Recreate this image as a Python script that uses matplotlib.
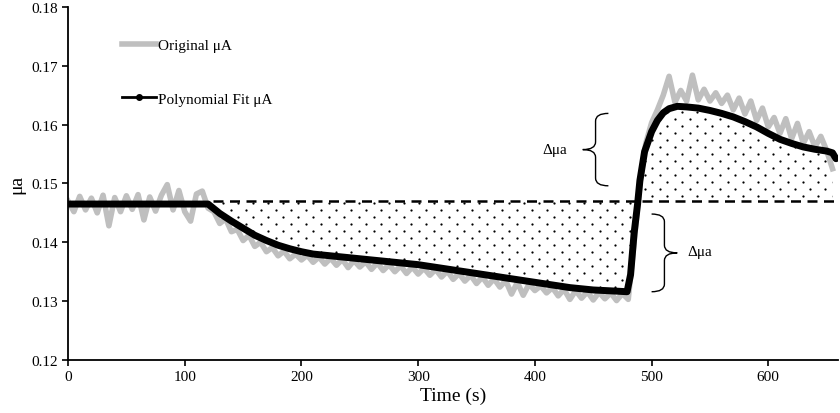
import numpy as np
import matplotlib
matplotlib.use("Agg")
import matplotlib.pyplot as plt
from matplotlib.lines import Line2D
from matplotlib.path import Path
from matplotlib.patches import PathPatch
from matplotlib.ticker import FormatStrFormatter

plt.rcParams['font.family'] = ['Liberation Serif', 'DejaVu Serif']

t_orig = list(range(0, 660, 5))
ua_orig = [
    0.1470, 0.1452, 0.1478, 0.1455, 0.1475, 0.1450, 0.1480, 0.1428, 0.1476, 0.1452,
    0.1479, 0.1456, 0.1481, 0.1438, 0.1477, 0.1453, 0.1480, 0.1498, 0.1455, 0.1488,
    0.1452, 0.1436, 0.1482, 0.1487, 0.1458,
    0.1452, 0.1432, 0.1440, 0.1418, 0.1422, 0.1403, 0.1412, 0.1393, 0.1400, 0.1384,
    0.1391, 0.1377, 0.1385, 0.1372, 0.1380, 0.1370,
    0.1378, 0.1366, 0.1375, 0.1363, 0.1373, 0.1361, 0.1371, 0.1357, 0.1369, 0.1358,
    0.1367, 0.1354, 0.1365, 0.1352, 0.1362, 0.1350, 0.1360, 0.1347, 0.1358, 0.1346,
    0.1356, 0.1344, 0.1354, 0.1341, 0.1351, 0.1337, 0.1347, 0.1334, 0.1344, 0.1330,
    0.1341, 0.1327, 0.1338, 0.1324, 0.1335, 0.1312, 0.1332, 0.1310, 0.1329, 0.1318,
    0.1326, 0.1314, 0.1323, 0.1309, 0.1320, 0.1303, 0.1318, 0.1305, 0.1316, 0.1302,
    0.1315, 0.1304, 0.1314, 0.1301, 0.1313, 0.1303,
    0.1400, 0.1500, 0.1568, 0.1603,
    0.1625, 0.1650, 0.1682, 0.1638, 0.1658, 0.1640, 0.1684, 0.1642, 0.1660, 0.1640,
    0.1654, 0.1636,
    0.1650, 0.1625, 0.1645, 0.1618, 0.1640, 0.1607, 0.1628, 0.1596, 0.1612, 0.1585,
    0.1610, 0.1576,
    0.1602, 0.1568, 0.1588, 0.1562, 0.1580, 0.1556, 0.1525,
]

# polynomial fit
t_fit = [0, 20, 40, 60, 80, 100, 120, 130, 140, 150, 160, 170, 180, 190, 200,
         210, 220, 230, 240, 250, 260, 270, 280, 290, 300, 310, 320, 330, 340,
         350, 360, 370, 380, 390, 400, 410, 420, 430, 440, 450, 460, 470, 479,
         482, 485, 488, 490, 494, 500, 505, 510, 515, 522, 530, 540, 550, 560,
         570, 580, 590, 600, 610, 620, 630, 640, 650, 655, 658]
ua_fit = [0.1465, 0.1465, 0.1465, 0.1465, 0.1465, 0.1465, 0.1465, 0.1449, 0.1436,
          0.1424, 0.1412, 0.1403, 0.1395, 0.1389, 0.1384, 0.1380, 0.1378, 0.1376,
          0.1374, 0.1372, 0.1370, 0.1368, 0.1366, 0.1364, 0.1362, 0.1359, 0.1356,
          0.1353, 0.1350, 0.1347, 0.1344, 0.1341, 0.1338, 0.1335, 0.1332, 0.1329,
          0.1326, 0.1323, 0.1321, 0.1319, 0.1318, 0.1317, 0.1316, 0.1345, 0.1415,
          0.1465, 0.1505, 0.1554, 0.1588, 0.1607, 0.1620, 0.1627, 0.1631, 0.1630,
          0.1628, 0.1624, 0.1619, 0.1613, 0.1605, 0.1596, 0.1585, 0.1575, 0.1568,
          0.1562, 0.1558, 0.1555, 0.1552, 0.1542]

baseline = 0.147
baseline_start, baseline_end = 124, 656

fig, ax = plt.subplots(figsize=(8.4, 4.14), dpi=100)
fig.subplots_adjust(left=0.081, right=0.998, bottom=0.128, top=0.981)

ax.plot(t_orig, ua_orig, color='#bfbfbf', lw=4, solid_joinstyle='round', zorder=2)

# dotted area between the fit and the baseline
tf = np.array(t_fit)
yf = np.array(ua_fit)
mask = (tf >= 120) & (tf <= 655)
area = ax.fill_between(tf[mask], yf[mask], baseline, facecolor='none',
                       edgecolor='none', linewidth=0, zorder=1)
dx, dy = 12.9, 0.00119
rows = np.arange(0.1300, 0.1650, dy)
gx, gy = [], []
for i, yy in enumerate(rows):
    xs = np.arange(120 + (dx / 2 if i % 2 else 0), 660, dx)
    gx.extend(xs)
    gy.extend([yy] * len(xs))
dots = ax.scatter(gx, gy, s=2.6, color='black', linewidths=0, zorder=1)
dots.set_clip_path(area.get_paths()[0], ax.transData)

ax.plot(t_fit, ua_fit, color='black', lw=5, solid_capstyle='round', zorder=3)
ax.plot([baseline_start, baseline_end], [baseline, baseline], color='black',
        lw=1.8, dashes=(4, 2.6), zorder=4)


def brace(x_spine, x_end, x_tip, y0, y1, r):
    ym = (y0 + y1) / 2
    verts = [(x_end, y1), (x_spine, y1), (x_spine, y1 - r),
             (x_spine, ym + r), (x_spine, ym), (x_tip, ym),
             (x_spine, ym), (x_spine, ym - r),
             (x_spine, y0 + r), (x_spine, y0), (x_end, y0)]
    codes = [Path.MOVETO, Path.CURVE3, Path.CURVE3, Path.LINETO, Path.CURVE3,
             Path.CURVE3, Path.CURVE3, Path.CURVE3, Path.LINETO, Path.CURVE3,
             Path.CURVE3]
    ax.add_patch(PathPatch(Path(verts, codes), facecolor='none',
                           edgecolor='black', lw=1.0, zorder=5))


brace(452, 463, 441, 0.1496, 0.1619, 0.0013)
brace(511, 500, 522, 0.1316, 0.1448, 0.0013)
ax.text(417, 0.1557, 'Δμa', fontsize=11, ha='center', va='center')
ax.text(531, 0.1384, 'Δμa', fontsize=11, ha='left', va='center')

ax.set_xlim(0, 660)
ax.set_ylim(0.12, 0.18)
ax.set_xticks([0, 100, 200, 300, 400, 500, 600])
ax.set_yticks([0.12, 0.13, 0.14, 0.15, 0.16, 0.17, 0.18])
ax.yaxis.set_major_formatter(FormatStrFormatter('%.2f'))
ax.tick_params(direction='out', length=4, width=1.2, labelsize=11)
for s in ['top', 'right']:
    ax.spines[s].set_visible(False)
for s in ['left', 'bottom']:
    ax.spines[s].set_linewidth(1.3)
ax.set_xlabel('Time (s)', fontsize=14, labelpad=2)
ax.set_ylabel('μa', fontsize=14)

handles = [Line2D([], [], color='#bfbfbf', lw=4),
           Line2D([], [], color='black', lw=2, marker='o', ms=4)]
ax.legend(handles, ['Original μA', 'Polynomial Fit μA'], loc='upper left',
          bbox_to_anchor=(0.07, 0.91), frameon=False, fontsize=11,
          labelspacing=2.6, handlelength=2.2, handletextpad=0.15,
          borderpad=0, borderaxespad=0)

plt.savefig('out.png', dpi=100)
